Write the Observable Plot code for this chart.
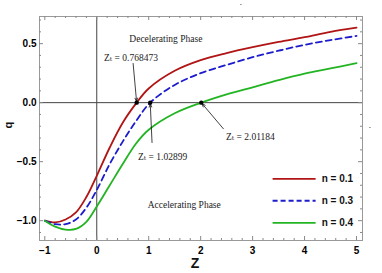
<!DOCTYPE html>
<html><head><meta charset="utf-8">
<script src="https://cdn.jsdelivr.net/npm/d3@7"></script>
<script src="https://cdn.jsdelivr.net/npm/@observablehq/plot@0.6"></script>
<style>
body{margin:0;background:#fff;}
#c{position:relative;width:382px;height:273px;overflow:hidden;}
.mk{position:absolute;font:bold 7px "Liberation Serif";color:#000;line-height:7px;}
</style>
</head><body><div id="c"></div>
<script>
// ---- data ----
const seriesNames = ["n = 0.1", "n = 0.3", "n = 0.4"];
const zRed  = [-1, -0.8, -0.6, -0.4, -0.2, 0, 0.25, 0.5, 0.768473, 1, 1.5, 2, 2.5, 3, 3.5, 4, 4.5, 5];
const qRed  = [-1.00, -1.015, -0.99, -0.93, -0.80, -0.62, -0.38, -0.17, 0, 0.12, 0.27, 0.36, 0.42, 0.47, 0.515, 0.555, 0.60, 0.635];
const zBlue = [-1, -0.8, -0.6, -0.4, -0.2, 0, 0.25, 0.5, 0.75, 1.02899, 1.5, 2, 2.5, 3, 3.5, 4, 4.5, 5];
const qBlue = [-1.00, -1.03, -1.03, -0.99, -0.89, -0.74, -0.52, -0.33, -0.16, 0, 0.15, 0.25, 0.32, 0.385, 0.44, 0.49, 0.53, 0.565];
const zGreen = [-1, -0.8, -0.6, -0.4, -0.2, 0, 0.25, 0.5, 0.75, 1, 1.5, 2.01184, 2.5, 3, 3.5, 4, 4.5, 5];
const qGreen = [-1.00, -1.05, -1.075, -1.07, -1.01, -0.88, -0.70, -0.52, -0.35, -0.23, -0.09, 0, 0.07, 0.13, 0.19, 0.245, 0.29, 0.335];
const transitionZ = [0.768473, 1.02899, 2.01184];
const transitionLabels = ["Z\u209C = 0.768473", "Z\u209C = 1.02899", "Z\u209C = 2.01184"];
const phaseLabels = ["Decelerating Phase", "Accelerating Phase"];
const xMajor = [-1, 0, 1, 2, 3, 4, 5];
const yMajor = [-1.0, -0.5, 0.0, 0.5];

// ---- layout / style (not data) ----
const colors = ["#b01414", "#1c1ccc", "#22b422"];
const dashes = [null, "6,4", null];
const W = 382, H = 273, mL = 39, mR = 20, mT = 16, mB = 33;
const fw = W - mL - mR, fh = H - mT - mB;
const xDom = [-1.102, 5.115], yDom = [-1.168, 0.73];
// annotation anchor positions (label start & arrow tail), in data units
const annot = [
  {tx: 0.14, ty: 0.377, ax: 0.70, ay: 0.332},
  {tx: 0.795, ty: -0.462, ax: 1.064, ay: -0.338},
  {tx: 2.489, ty: -0.293, ax: 2.437, ay: -0.221}
];
const phasePos = [{x: 1.33, y: 0.541}, {x: 1.684, y: -0.871}];
const legendPos = {x1: 3.394, x2: 4.222, xt: 4.33, y: [-0.645, -0.831, -1.018]};

const series = [[zRed, qRed], [zBlue, qBlue], [zGreen, qGreen]];
const seriesRows = series.map(([zs, qs]) => zs.map((z, j) => ({z, q: qs[j]})));

const xMinor = d3.range(-1, 5.0001, 0.2).map(v => +v.toFixed(2)).filter(v => !xMajor.includes(v));
const yMinor = d3.range(-1.1, 0.70001, 0.1).map(v => +v.toFixed(2)).filter(v => !yMajor.includes(v));

const tickStyle = {stroke: "#888", strokeWidth: 1};
const tx = (vals, len, side) => Plot.tickX(vals, {x: d => d, ...tickStyle,
  insetTop: side === "bottom" ? fh - len : 0, insetBottom: side === "top" ? fh - len : 0});
const ty = (vals, len, side) => Plot.tickY(vals, {y: d => d, ...tickStyle,
  insetRight: side === "left" ? fw - len : 0, insetLeft: side === "right" ? fw - len : 0});

const ann = transitionZ.map((z, i) => ({z, ...annot[i], label: transitionLabels[i]}));

const lineMarks = seriesRows.map((rows, i) => Plot.line(rows, {x: "z", y: "q", stroke: colors[i],
  strokeWidth: 1.8, curve: "catmull-rom", strokeDasharray: dashes[i]}));
const legendMarks = seriesNames.flatMap((s, i) => [
  Plot.ruleY([legendPos.y[i]], {x1: legendPos.x1, x2: legendPos.x2, stroke: colors[i], strokeWidth: 1.8,
    strokeDasharray: i === 1 ? "5,3" : null}),
  Plot.text([s], {x: legendPos.xt, y: legendPos.y[i], text: d => d, textAnchor: "start", fontSize: 10,
    fontWeight: "bold", fontFamily: "Liberation Sans", fill: "#111"})
]);

const chart = Plot.plot({
  width: W, height: H,
  marginLeft: mL, marginRight: mR, marginTop: mT, marginBottom: mB,
  x: {domain: xDom},
  y: {domain: yDom},
  style: {background: "#fff", overflow: "visible"},
  marks: [
    Plot.ruleX([0], {stroke: "#444", strokeWidth: 1}),
    Plot.ruleY([0], {stroke: "#444", strokeWidth: 1}),
    Plot.frame({stroke: "#999"}),
    tx(xMajor, 4, "bottom"), tx(xMinor, 2, "bottom"), tx(xMajor, 4, "top"), tx(xMinor, 2, "top"),
    ty(yMajor, 4, "left"), ty(yMinor, 2, "left"), ty(yMajor, 4, "right"), ty(yMinor, 2, "right"),
    Plot.axisX({ticks: xMajor, tickSize: 0, tickPadding: 6, tickFormat: d3.format("d"),
      fontSize: 10, fontWeight: "bold", fontFamily: "Liberation Sans", label: null}),
    Plot.axisY({ticks: yMajor, tickSize: 0, tickPadding: 3, tickFormat: d3.format(".1f"),
      fontSize: 10, fontWeight: "bold", fontFamily: "Liberation Sans", label: null}),
    ...lineMarks,
    Plot.arrow(ann, {x1: "ax", y1: "ay", x2: "z", y2: () => 0, stroke: "#111", strokeWidth: 0.8,
      headLength: 7, headAngle: 40, insetEnd: 1}),
    Plot.dot(ann, {x: "z", y: () => 0, r: 2.2, fill: "#000"}),
    Plot.text(ann, {x: "tx", y: "ty", text: "label", textAnchor: "start", fontSize: 9.5,
      fontFamily: "Liberation Serif, DejaVu Serif", fill: "#222"}),
    Plot.text(phaseLabels, {x: (d, i) => phasePos[i].x, y: (d, i) => phasePos[i].y, text: d => d,
      fontSize: 9.5, fontFamily: "Liberation Serif", fill: "#222"}),
    ...legendMarks,
    Plot.text(["q"], {frameAnchor: "left", dx: -31, rotate: -90, fontSize: 11, fontWeight: "bold",
      fontFamily: "Liberation Sans", fill: "#111"}),
    Plot.text(["Z"], {frameAnchor: "bottom", dx: -6, dy: 27, fontSize: 14, fontWeight: "bold",
      fontFamily: "Liberation Sans", fill: "#111"})
  ]
});
const c = document.getElementById("c");
c.appendChild(chart);
for (const [l, t] of [[240, 0], [369, 123]]) {
  const s = document.createElement("span");
  s.className = "mk"; s.style.left = l + "px"; s.style.top = t + "px"; s.textContent = ".";
  c.appendChild(s);
}
</script>
</body></html>
